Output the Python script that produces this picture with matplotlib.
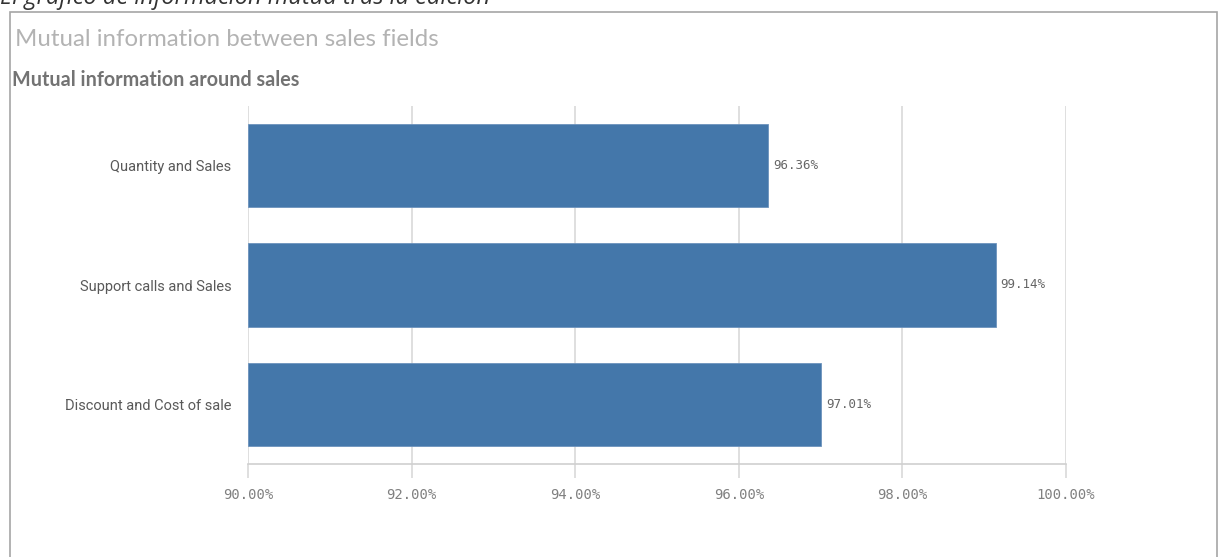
import matplotlib.pyplot as plt
from matplotlib.patches import Rectangle

categories = ['Quantity and Sales', 'Support calls and Sales', 'Discount and Cost of sale']
values = [96.36, 99.14, 97.01]
xticks = [90, 92, 94, 96, 98, 100]

W, H = 1221, 557
fig = plt.figure(figsize=(W / 100, H / 100), dpi=100)

def px(x, y):
    return x / W, 1 - y / H

# outer frame of the chart object
fig.patches.append(Rectangle(px(10, 600), 1207 / W, 588 / H, transform=fig.transFigure,
                             fill=False, edgecolor='#a6a6a6', linewidth=1.2))

# caption cut off at the top
fig.text(*px(0, -14), 'El gráfico de información mutua tras la edición', fontsize=17,
         style='italic', color='#333333', family='Open Sans', va='top', ha='left')

fig.text(*px(15, 40), 'Mutual information between sales fields', fontsize=17.3,
         color='#b3b3b3', family='Lato', va='center', ha='left')
fig.text(*px(12, 80), 'Mutual information around sales', fontsize=14.2,
         color='#737373', family='Lato', weight='bold', va='center', ha='left')

left, right, top, bottom = 248, 1066, 106, 464
ax = fig.add_axes([left / W, 1 - bottom / H, (right - left) / W, (bottom - top) / H])

pos = list(range(len(categories)))[::-1]
ax.barh(pos, [v - 90 for v in values], left=90, height=0.7, color='#4477aa',
        edgecolor='#6d93bd', linewidth=0.6, zorder=3)
for p, v in zip(pos, values):
    ax.text(v + 0.06, p, f'{v:.2f}%', va='center', ha='left', fontsize=9,
            family='DejaVu Sans Mono', color='#666666')

ax.set_xlim(90, 100)
ax.set_ylim(-0.5, 2.5)
ax.set_xticks(xticks)
ax.set_xticklabels([f'{t:.2f}%' for t in xticks], family='DejaVu Sans Mono',
                   fontsize=10, color='#808080')
ax.set_yticks(pos)
ax.set_yticklabels(categories, fontsize=10.5, color='#595959', family='Roboto')
ax.tick_params(axis='y', length=0, pad=12)
ax.tick_params(axis='x', length=10, color='#d9d9d9', width=1.2, pad=7)
ax.xaxis.grid(True, color='#d9d9d9', linewidth=1.2, zorder=0)
for s in ['top', 'right', 'left']:
    ax.spines[s].set_visible(False)
ax.spines['bottom'].set_color('#d0d0d0')
ax.spines['bottom'].set_linewidth(1.2)

fig.savefig('out.png', dpi=100)
